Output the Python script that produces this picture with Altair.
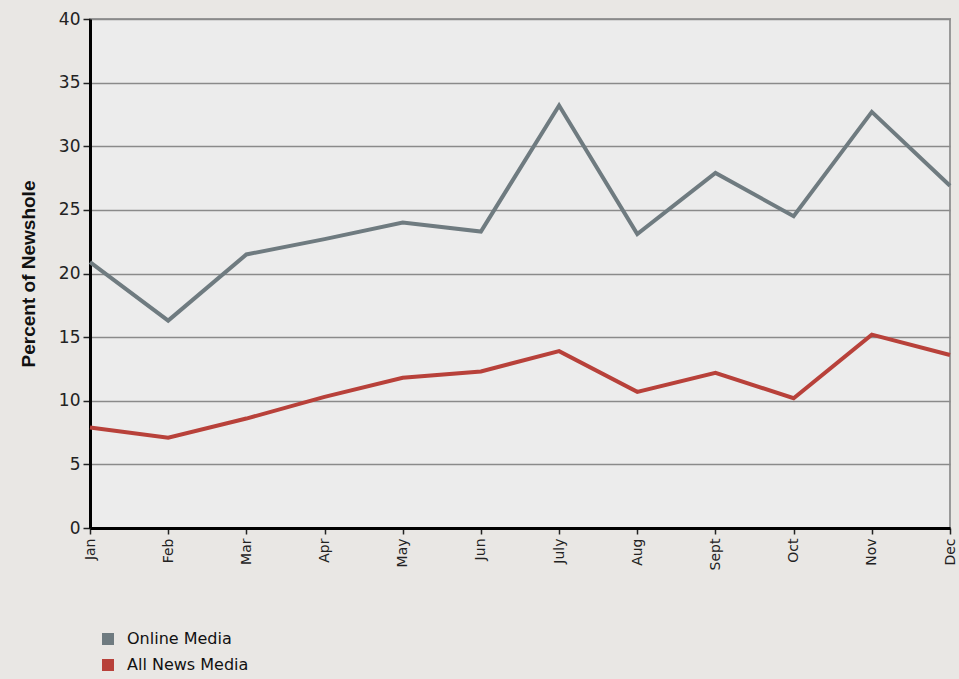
import altair as alt
import pandas as pd

months = ["Jan", "Feb", "Mar", "Apr", "May", "Jun", "July", "Aug", "Sept", "Oct", "Nov", "Dec"]
online_media = [20.9, 16.3, 21.5, 22.7, 24.0, 23.3, 33.2, 23.1, 27.9, 24.5, 32.7, 26.9]
all_news_media = [7.9, 7.1, 8.6, 10.3, 11.8, 12.3, 13.9, 10.7, 12.2, 10.2, 15.2, 13.6]
series_names = ["Online Media", "All News Media"]
series_colors = ["#6f7b80", "#b8413a"]

rows = []
for i, m in enumerate(months):
    rows.append({"month": m, "series": series_names[0], "value": online_media[i]})
    rows.append({"month": m, "series": series_names[1], "value": all_news_media[i]})
df = pd.DataFrame(rows)

FONT = "DejaVu Sans"
TFONT = "Liberation Sans"

x_enc = alt.X("month:N", sort=months, scale=alt.Scale(type="point", padding=0),
              axis=alt.Axis(title=None, labelAngle=-90, labelFont=FONT, labelFontSize=14,
                            labelColor="#222", domainColor="#000", domainWidth=3,
                            tickColor="#222", tickWidth=1.5, tickSize=6, labelPadding=4,
                            grid=False, labelBaseline="middle", labelAlign="right"))
y_enc = alt.Y("value:Q", scale=alt.Scale(domain=[0, 40], nice=False),
              axis=alt.Axis(title="Percent of Newshole", values=[0, 5, 10, 15, 20, 25, 30, 35, 40],
                            titleFont=TFONT, titleFontSize=19, titleFontWeight="bold", titleColor="#111",
                            titlePadding=20,
                            labelFont=FONT, labelFontSize=17, labelColor="#222", labelPadding=3,
                            domainColor="#000", domainWidth=3, tickColor="#222", tickWidth=1.5,
                            tickSize=7, gridColor="#8a8a8a", gridWidth=1.6, gridOpacity=1))

legend = alt.Legend(
    title=None, orient="none", legendX=10, legendY=612,
    symbolType="square", symbolSize=36, symbolStrokeWidth=6, symbolOpacity=1,
    labelFont=FONT, labelFontSize=16, labelColor="#111", rowPadding=-4, labelOffset=11,
)

chart = alt.Chart(df).mark_line(strokeWidth=4).encode(
    x=x_enc, y=y_enc,
    color=alt.Color("series:N", sort=series_names,
                    scale=alt.Scale(domain=series_names, range=series_colors),
                    legend=legend),
).properties(
    width=860, height=509,
    background="#e9e7e4",
    padding={"left": 90, "top": 19, "right": 9, "bottom": 151},
    autosize=alt.AutoSizeParams(type="none"),
).configure_view(
    fill="#ececec", stroke="#999999", strokeWidth=2
)

chart.save("out.html", embed_options={"renderer": "svg", "actions": False})
